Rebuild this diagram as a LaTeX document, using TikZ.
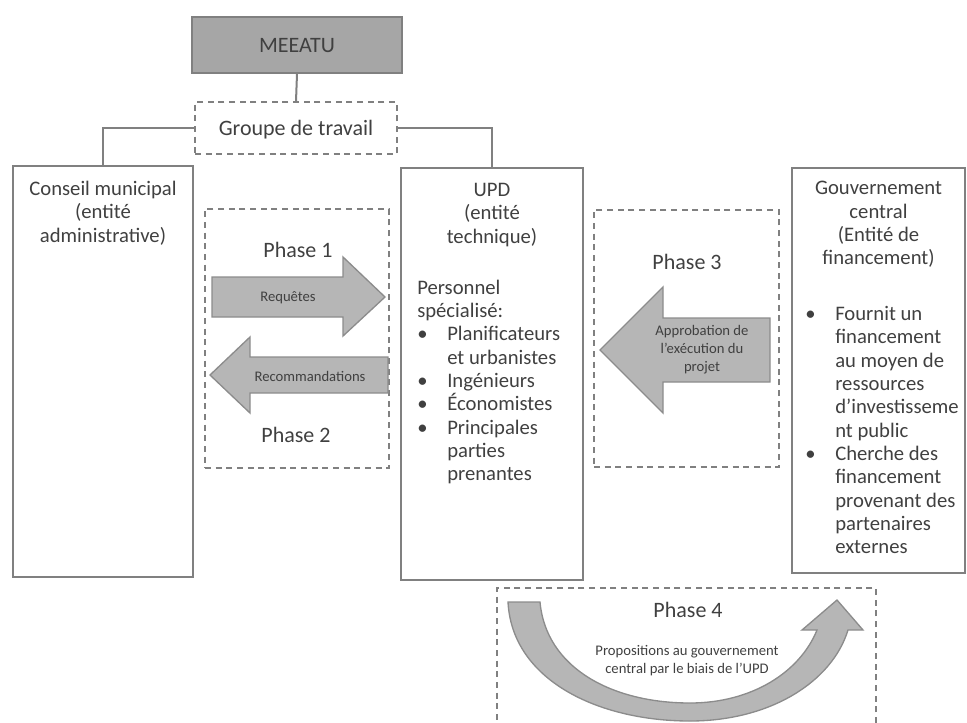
\documentclass[tikz,border=0pt]{standalone}
\usepackage{fontspec}
\setmainfont{Carlito}

\definecolor{linegray}{RGB}{128,128,128}
\definecolor{boxfill}{RGB}{166,166,166}
\definecolor{arrowfill}{RGB}{182,182,182}
\definecolor{arrowline}{RGB}{140,140,140}
\definecolor{textgray}{RGB}{64,64,64}

\tikzset{
  solidbox/.style={draw=linegray, line width=1.5pt, inner sep=0pt},
  dashbox/.style={draw=linegray, line width=1.2pt, dash pattern=on 4.5pt off 3.5pt, inner sep=0pt},
  bigtxt/.style={font=\fontsize{15.5}{17.5}\selectfont, text=textgray, inner sep=0pt},
  phasetxt/.style={font=\fontsize{16.5}{19}\selectfont, text=textgray, inner sep=0pt},
  smalltxt/.style={font=\fontsize{11}{13.5}\selectfont, text=textgray, inner sep=0pt},
  blockarrow/.style={draw=arrowline, fill=arrowfill, line width=1pt, line join=miter},
}
\newcommand{\blt}{\makebox[22.5pt][l]{\textbullet}}
\newcommand{\ind}{\hspace*{22.5pt}}

\begin{document}
\begin{tikzpicture}[x=0.75pt,y=0.75pt,yscale=-1,xscale=1]
        \useasboundingbox (0,0) rectangle (967,722);

        %Shape: Rectangle [MEEATU]
        \node [solidbox, fill=boxfill, minimum width=157.5pt, minimum height=42pt] (meeatu) at (297,45) {};
        %Shape: Rectangle [Groupe de travail]
        \node [dashbox, minimum width=151.5pt, minimum height=39pt] (groupe) at (296,128) {};
        %Shape: Rectangle [Conseil municipal]
        \node [solidbox, minimum width=135pt, minimum height=308.25pt] (conseil) at (103,371.5) {};
        %Shape: Rectangle [UPD]
        \node [solidbox, minimum width=136.5pt, minimum height=309pt] (upd) at (492,374) {};
        %Shape: Rectangle [Gouvernement central]
        \node [solidbox, minimum width=129.75pt, minimum height=303.75pt] (gouv) at (878.5,370.5) {};
        %Shape: Rectangle [Phases 1 et 2]
        \node [dashbox, minimum width=138pt, minimum height=194.25pt] (phasesdeux) at (297,338.5) {};
        %Shape: Rectangle [Phase 3]
        \node [dashbox, minimum width=138.75pt, minimum height=192.75pt] (phasetrois) at (686.5,338.5) {};
        %Shape: Rectangle [Phase 4]
        \node [dashbox, minimum width=284.25pt, minimum height=105pt] (phasequatre) at (686.5,658) {};

        %Straight Lines
        \draw [linegray, line width=1.5pt] (meeatu.south) -- (groupe.north) ;
        \draw [linegray, line width=1.5pt] (groupe.west) -| (conseil.north) ;
        \draw [linegray, line width=1.5pt] (groupe.east) -| (upd.north) ;

        %Shape: Polygon [Requetes]
        \draw [blockarrow] (212,277) -- (343,277) -- (343,257) -- (385,297) -- (343,336) -- (343,317) -- (212,317) -- cycle ;
        %Shape: Polygon [Recommandations]
        \draw [blockarrow] (388,357) -- (250,357) -- (250,337) -- (210,375) -- (250,413) -- (250,393) -- (388,393) -- cycle ;
        %Shape: Polygon [Approbation]
        \draw [blockarrow] (770,318) -- (663,318) -- (663,287) -- (600,350) -- (663,413) -- (663,382) -- (770,382) -- cycle ;
        %Shape: Curved Arrow [Propositions]
        \draw [blockarrow] (508,602) .. controls (512,680) and (598,721) .. (690,721) .. controls (770,721) and (832,682) .. (848,630) -- (863,630) -- (837,600) -- (802,630) -- (817,630) .. controls (800,672) and (752,703) .. (690,703) .. controls (612,703) and (546,668) .. (540,602) -- cycle ;

        % Text Node
        \node [phasetxt] (meeatutxt) at (297,46) {MEEATU};
        % Text Node
        \node [phasetxt] (groupetxt) at (296,130) {Groupe de travail};
        % Text Node
        \node [bigtxt, align=center] (conseiltxt) at (103,213) {Conseil municipal\\(entité\\administrative)};
        % Text Node
        \node [bigtxt, align=center] (updtxt) at (492,215) {UPD\\(entité\\technique)};
        % Text Node
        \node [bigtxt, align=left, anchor=west] (personnel) at (417,382) {Personnel\\spécialisé:\\\blt Planificateurs\\\ind et urbanistes\\\blt Ingénieurs\\\blt Économistes\\\blt Principales\\\ind parties\\\ind prenantes};
        % Text Node
        \node [bigtxt, align=center] (gouvtxt) at (878.5,224.5) {Gouvernement\\central\\(Entité de\\financement)};
        % Text Node
        \node [bigtxt, align=left, anchor=west] (financement) at (805,430) {\blt Fournit un\\\ind financement\\\ind au moyen de\\\ind ressources\\\ind d'investisseme\\\ind nt public\\\blt Cherche des\\\ind financement\\\ind provenant des\\\ind partenaires\\\ind externes};

        % Text Node
        \node [phasetxt] (phaseun) at (298,250) {Phase 1};
        % Text Node
        \node [phasetxt] (phasedeux) at (296,435) {Phase 2};
        % Text Node
        \node [phasetxt] (phasetroistxt) at (687,262) {Phase 3};
        % Text Node
        \node [phasetxt] (phasequatretxt) at (688,610) {Phase 4};

        % Text Node
        \node [smalltxt] (requetes) at (288,298) {Requêtes};
        % Text Node
        \node [smalltxt] (recos) at (310,376) {Recommandations};
        % Text Node
        \node [smalltxt, align=center] (approb) at (702,350) {Approbation de\\l'exécution du\\projet};
        % Text Node
        \node [smalltxt, align=center] (propos) at (687,661) {Propositions au gouvernement\\central par le biais de l'UPD};

\end{tikzpicture}
\end{document}
